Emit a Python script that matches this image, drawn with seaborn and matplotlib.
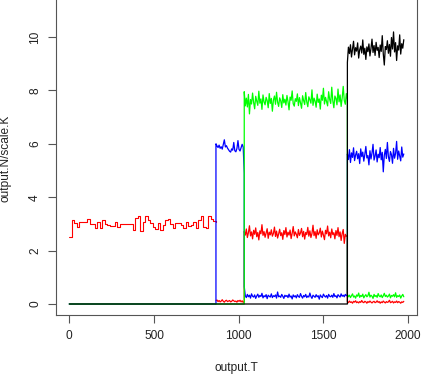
import numpy as np
import pandas as pd
import matplotlib
matplotlib.use("Agg")
import matplotlib.pyplot as plt
import seaborn as sns

# phase boundaries on the time axis (output.T)
phase_bounds = [0, 866, 1033, 1642, 1975]

# red: slow step phase, then low / mid / low noisy phases
red_phase1 = [2.50, 3.15, 3.05, 2.90, 3.08, 3.06, 3.08, 3.20, 3.00, 3.00,
              2.84, 3.08, 2.86, 3.15, 2.98, 2.94, 2.92, 2.93, 3.08, 2.90,
              2.99, 3.00, 2.98, 3.01, 2.99, 2.78, 3.22, 3.28, 2.72, 3.08,
              3.30, 3.15, 3.02, 2.90, 2.80, 3.05, 2.78, 2.96, 3.15, 3.20,
              3.00, 2.84, 3.05, 3.02, 2.96, 2.84, 3.08, 2.92, 2.94, 3.08,
              2.86, 3.15, 3.28, 2.90, 2.84, 3.28, 3.18, 3.10, 3.08]
red_phase2 = [0.12, 0.15, 0.09, 0.13, 0.08, 0.11, 0.16, 0.10, 0.07, 0.12,
              0.14, 0.09, 0.11, 0.13, 0.08, 0.10, 0.15, 0.12, 0.09, 0.11,
              0.07, 0.13, 0.10, 0.14, 0.08, 0.12, 0.06, 0.10]
red_phase3 = [2.72, 2.58, 2.81, 2.49, 2.67, 2.93, 2.55, 2.70, 2.44, 2.76,
              2.61, 2.85, 2.52, 2.68, 2.40, 2.74, 2.63, 2.97, 2.57, 2.71,
              2.50, 2.66, 2.82, 2.46, 2.69, 2.59, 2.78, 2.54, 2.64, 2.88,
              2.53, 2.73, 2.47, 2.62, 2.80, 2.56, 2.67, 2.42, 2.75, 2.60,
              2.86, 2.51, 2.69, 2.58, 2.77, 2.45, 2.65, 2.90, 2.55, 2.70,
              2.61, 2.48, 2.79, 2.57, 2.66, 2.83, 2.52, 2.72, 2.43, 2.68,
              2.60, 2.87, 2.54, 2.74, 2.49, 2.64, 2.95, 2.56, 2.71, 2.46,
              2.78, 2.59, 2.66, 2.84, 2.51, 2.73, 2.58, 2.41, 2.76, 2.63,
              2.92, 2.55, 2.69, 2.48, 2.81, 2.60, 2.67, 2.44, 2.75, 2.57,
              2.86, 2.52, 2.70, 2.38, 2.64, 2.79, 2.27, 2.61, 2.53, 2.58]
red_phase4 = [0.09, 0.05, 0.11, 0.06, 0.08, 0.03, 0.10, 0.07, 0.12, 0.05,
              0.08, 0.04, 0.09, 0.06, 0.13, 0.07, 0.05, 0.10, 0.08, 0.03,
              0.09, 0.06, 0.11, 0.07, 0.04, 0.08, 0.10, 0.05, 0.07, 0.12,
              0.06, 0.09, 0.03, 0.08, 0.05, 0.11, 0.07, 0.04, 0.09, 0.06,
              0.08, 0.14, 0.05, 0.07, 0.10, 0.04, 0.08, 0.06, 0.11, 0.05,
              0.09, 0.07, 0.03, 0.08, 0.06, 0.10]

# blue
blue_phase1 = [0.0, 0.0]
blue_phase2 = [6.00, 5.92, 5.86, 5.95, 5.83, 5.89, 5.80, 5.97, 6.15, 5.88,
               5.93, 5.84, 5.78, 5.72, 5.69, 5.81, 5.76, 6.05, 5.74, 5.70,
               5.82, 6.12, 5.79, 5.73, 5.85, 5.98, 5.88, 4.90]
blue_phase3 = [0.65, 0.31, 0.24, 0.36, 0.27, 0.33, 0.22, 0.38, 0.29, 0.26,
               0.34, 0.21, 0.30, 0.37, 0.25, 0.32, 0.28, 0.40, 0.23, 0.31,
               0.27, 0.35, 0.20, 0.33, 0.29, 0.26, 0.38, 0.24, 0.31, 0.28,
               0.34, 0.22, 0.45, 0.27, 0.30, 0.25, 0.36, 0.29, 0.21, 0.33,
               0.28, 0.32, 0.24, 0.37, 0.26, 0.30, 0.19, 0.34, 0.27, 0.31,
               0.23, 0.35, 0.28, 0.25, 0.39, 0.29, 0.22, 0.32, 0.27, 0.36,
               0.24, 0.30, 0.26, 0.41, 0.28, 0.21, 0.33, 0.29, 0.25, 0.35,
               0.27, 0.31, 0.18, 0.34, 0.28, 0.24, 0.37, 0.30, 0.26, 0.32,
               0.22, 0.36, 0.29, 0.27, 0.33, 0.25, 0.39, 0.28, 0.31, 0.23,
               0.35, 0.30, 0.26, 0.38, 0.29, 0.33, 0.27, 0.36, 0.31, 0.34]
blue_phase4 = [5.62, 5.41, 5.78, 5.30, 5.66, 5.49, 5.85, 5.37, 5.58, 5.72,
               5.44, 5.63, 5.26, 5.81, 5.52, 5.69, 5.35, 5.60, 5.90, 5.47,
               5.56, 5.21, 5.74, 5.43, 5.65, 5.98, 5.39, 5.54, 5.77, 5.32,
               5.61, 5.48, 5.86, 5.40, 5.68, 4.95, 5.57, 5.79, 5.45, 6.05,
               5.51, 5.34, 5.71, 5.59, 5.27, 5.83, 5.46, 5.64, 6.09, 5.42,
               5.73, 5.55, 5.36, 5.88, 5.50, 5.62]

# green
green_phase1 = [0.0, 0.0]
green_phase2 = [0.0, 0.0]
green_phase3 = [7.95, 7.42, 7.71, 7.38, 7.85, 7.12, 7.66, 7.49, 7.90, 7.55,
                7.31, 7.78, 7.60, 7.44, 7.97, 7.52, 7.68, 7.29, 7.83, 7.57,
                7.46, 7.74, 7.62, 7.35, 7.88, 7.51, 7.70, 7.22, 7.64, 7.79,
                7.48, 7.93, 7.56, 7.40, 7.72, 7.61, 7.36, 7.84, 7.53, 7.67,
                7.45, 7.81, 7.58, 7.27, 7.75, 7.63, 7.98, 7.50, 7.41, 7.69,
                7.59, 7.87, 7.43, 7.73, 7.54, 7.33, 7.80, 7.62, 7.47, 7.92,
                7.57, 7.39, 7.76, 7.65, 7.52, 8.02, 7.44, 7.71, 7.60, 7.37,
                7.86, 7.55, 7.68, 7.30, 7.82, 7.63, 8.08, 7.49, 7.74, 7.58,
                7.42, 7.95, 7.66, 7.51, 8.12, 7.61, 7.35, 7.79, 7.70, 7.46,
                8.05, 7.57, 7.83, 7.40, 7.72, 8.15, 7.62, 7.48, 7.88, 7.66]
green_phase4 = [0.36, 0.27, 0.33, 0.24, 0.31, 0.38, 0.26, 0.30, 0.22, 0.34,
                0.29, 0.41, 0.25, 0.32, 0.28, 0.37, 0.23, 0.30, 0.35, 0.27,
                0.31, 0.44, 0.26, 0.33, 0.29, 0.21, 0.36, 0.28, 0.32, 0.25,
                0.39, 0.30, 0.27, 0.34, 0.24, 0.31, 0.40, 0.28, 0.33, 0.26,
                0.30, 0.37, 0.23, 0.32, 0.29, 0.35, 0.27, 0.42, 0.25, 0.31,
                0.28, 0.34, 0.22, 0.30, 0.36, 0.27]

# black
black_phase1 = [0.0, 0.0]
black_phase2 = [0.0, 0.0]
black_phase3 = [0.0, 0.0]
black_phase4 = [9.05, 9.62, 9.38, 9.71, 9.25, 9.55, 9.84, 9.33, 9.60, 9.47,
                9.78, 9.21, 9.52, 9.66, 9.40, 9.89, 9.35, 9.58, 9.16, 9.63,
                9.45, 9.74, 9.29, 9.57, 9.92, 9.42, 9.68, 9.31, 9.80, 9.50,
                9.61, 9.23, 9.70, 9.46, 10.05, 9.37, 8.95, 9.64, 9.53, 9.86,
                9.39, 9.72, 9.28, 9.98, 9.55, 10.19, 9.44, 9.79, 9.12, 9.67,
                9.51, 10.08, 9.36, 9.75, 9.58, 9.90]

series = {
    "red": [red_phase1, red_phase2, red_phase3, red_phase4],
    "blue": [blue_phase1, blue_phase2, blue_phase3, blue_phase4],
    "green": [green_phase1, green_phase2, green_phase3, green_phase4],
    "black": [black_phase1, black_phase2, black_phase3, black_phase4],
}
colors = {"red": "#ff0000", "blue": "#0000ff", "green": "#00ff00", "black": "#000000"}


def to_frame(phases, first_phase):
    # values of each phase are spread evenly over that phase's time span
    t_parts, v_parts = [], []
    for k, vals in enumerate(phases, start=first_phase):
        t_parts.append(np.linspace(phase_bounds[k], phase_bounds[k + 1], len(vals)))
        v_parts.append(np.asarray(vals, dtype=float))
    return pd.DataFrame({"T": np.concatenate(t_parts), "N": np.concatenate(v_parts)})


sns.set_style("white")
plt.rcParams["font.family"] = ["Liberation Sans", "DejaVu Sans"]

fig = plt.figure(figsize=(4.22, 3.75), dpi=100)
ax = fig.add_axes([56 / 422, 60 / 375, 361 / 422, 325 / 375])

for name, phases in series.items():
    if name == "red":
        # the first red phase is a slow jump process: draw as steps
        sns.lineplot(data=to_frame(phases[:1], 0), x="T", y="N", estimator=None,
                     sort=False, drawstyle="steps-post", color=colors[name],
                     lw=0.8, ax=ax)
        df = to_frame(phases[1:], 1)
    else:
        df = to_frame(phases, 0)
    sns.lineplot(data=df, x="T", y="N", estimator=None, sort=False,
                 color=colors[name], lw=0.9, ax=ax)

ax.set_xlim(-78.4, 2053)
ax.set_ylim(-0.412, 11.76)
ax.set_xticks([0, 500, 1000, 1500, 2000])
ax.set_yticks([0, 2, 4, 6, 8, 10])
ax.set_xlabel("")
ax.set_ylabel("")
for s in ax.spines.values():
    s.set_visible(True)
    s.set_color("#555555")
    s.set_linewidth(0.8)
ax.tick_params(direction="out", length=5.8, width=0.8, color="#555555",
               labelsize=8.6, labelcolor="#222222", pad=5)
ax.tick_params(axis="y", left=True)
ax.tick_params(axis="x", bottom=True)
for lbl in ax.get_yticklabels():
    lbl.set_rotation(90)
    lbl.set_va("center")

fig.text(6 / 422, 1 - 158 / 375, "output.N/scale.K", rotation=90,
         ha="center", va="center", fontsize=8.6, color="#222222")
fig.text(236 / 422, 1 - 368 / 375, "output.T", ha="center", va="center",
         fontsize=8.6, color="#222222")

fig.savefig("out.png", dpi=100)
plt.close(fig)
